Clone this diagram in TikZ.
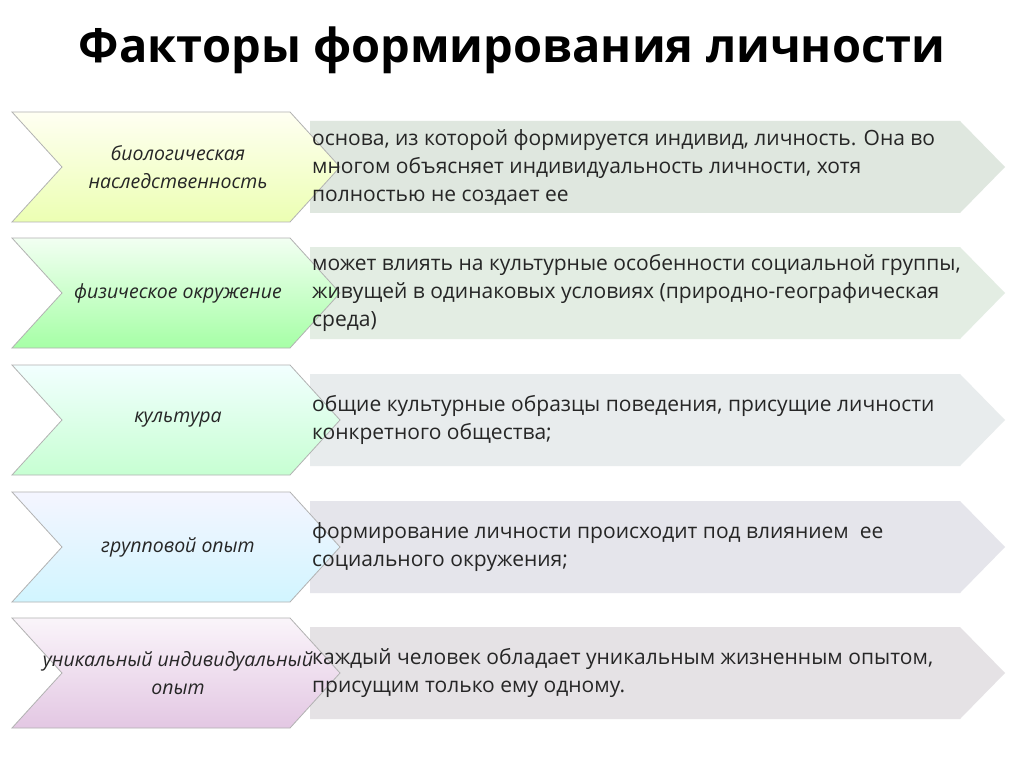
\documentclass[tikz,border=0pt]{standalone}
\usepackage{fontspec}
\setmainfont{Open Sans}
\begin{document}
\begin{tikzpicture}[x=1pt,y=-1pt,
  lbl/.style={font=\fontsize{19.5}{28}\selectfont\itshape, align=center, text=black!85},
  desc/.style={font=\fontsize{21}{28}\selectfont, align=left, anchor=west, inner sep=0pt, text=black!85}]
\useasboundingbox (0,0) rectangle (1024,767);
\fill[white] (0,0) rectangle (1024,767);
\node[font=\fontsize{47}{50}\selectfont\bfseries] (title) at (512,50) {Факторы формирования личности};
\def\row#1#2#3#4#5#6{%
  \fill[#4] (310,#1-46) -- (960,#1-46) -- (1005,#1) -- (960,#1+46) -- (310,#1+46) -- cycle;
  \shade[shading angle=30, top color=#5, bottom color=#6, draw=gray!60, line width=0.8pt] (12,#1-55) -- (290,#1-55) -- (340,#1) -- (290,#1+55) -- (12,#1+55) -- (62,#1) -- cycle;
  \node[lbl] (l#1) at (178,#1) {#2};
  \node[desc] (d#1) at (312,#1) {#3};
}
\row{167}{биологическая\\наследственность}{основа, из которой формируется индивид, личность. Она во\\многом объясняет индивидуальность личности, хотя\\полностью не создает ее}{green!15!gray!22}{yellow!5!white}{green!25!yellow!30}
\row{293}{физическое окружение}{может влиять на культурные особенности социальной группы,\\живущей в одинаковых условиях (природно-географическая\\среда)}{green!20!gray!18}{green!5!white}{green!35!white}
\row{420}{культура}{общие культурные образцы поведения, присущие личности\\конкретного общества;}{cyan!15!gray!18}{cyan!5!white}{cyan!20!green!22!white}
\row{547}{групповой опыт}{формирование личности происходит под влиянием~ ее\\социального окружения;}{blue!12!gray!18}{blue!4!white}{blue!22!cyan!18!white}
\row{673}{уникальный индивидуальный\\опыт}{каждый человек обладает уникальным жизненным опытом,\\присущим только ему одному.}{violet!12!gray!20}{violet!4!white}{violet!22!white}
\end{tikzpicture}
\end{document}
